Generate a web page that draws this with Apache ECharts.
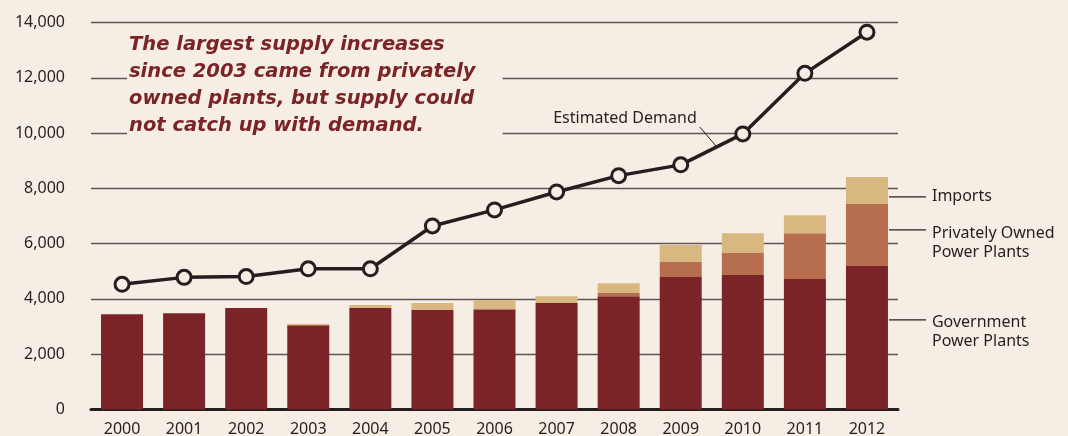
<!DOCTYPE html>
<html>
<head>
<meta charset="utf-8">
<script src="https://cdn.jsdelivr.net/npm/echarts@6/dist/echarts.min.js"></script>
<style>
  html, body { margin: 0; padding: 0; background: #f6eee4; }
  #chart { width: 1068px; height: 436px; }
</style>
</head>
<body>
<div id="chart"></div>
<script>
// Electricity supply by source vs. estimated demand (stacked bars + line)
const years = ['2000','2001','2002','2003','2004','2005','2006','2007','2008','2009','2010','2011','2012'];
const government = [3450, 3480, 3670, 3050, 3670, 3600, 3620, 3850, 4100, 4790, 4870, 4720, 5190];
const privatelyOwned = [0, 0, 0, 0, 0, 0, 30, 0, 110, 550, 790, 1660, 2240];
const imports = [0, 0, 0, 40, 110, 250, 310, 250, 360, 610, 720, 650, 980];
const demand = [4530, 4780, 4810, 5090, 5090, 6640, 7220, 7870, 8460, 8850, 9970, 12160, 13650];
const yTicks = [0, 2000, 4000, 6000, 8000, 10000, 12000, 14000];

const BG = '#f6eee4';
const INK = '#231f20';
const C_GOV = '#7a2427';
const C_PRIV = '#b76e4f';
const C_IMP = '#d9b780';
const FONT = '"Noto Sans", "Open Sans", sans-serif';

const chart = echarts.init(document.getElementById('chart'), null, { renderer: 'canvas' });

chart.setOption({
  backgroundColor: BG,
  animation: false,
  title: {
    text: 'The largest supply increases\nsince 2003 came from privately\nowned plants, but supply could\nnot catch up with demand.',
    left: 127,
    top: 31,
    padding: [0, 27, 4, 2],
    backgroundColor: BG,
    textStyle: {
      color: C_GOV,
      fontFamily: '"DejaVu Sans", sans-serif',
      fontStyle: 'italic',
      fontWeight: 'bold',
      fontSize: 19.5,
      lineHeight: 27
    },
    z: 10
  },
  grid: { left: 91, right: 170, top: 22.5, bottom: 26.5, outerBoundsMode: 'none' },
  xAxis: {
    type: 'category',
    data: years,
    axisLine: { lineStyle: { color: INK, width: 3 } },
    axisTick: { show: false },
    axisLabel: { color: INK, fontFamily: FONT, fontSize: 16, margin: 12 }
  },
  yAxis: {
    type: 'value',
    min: yTicks[0],
    max: yTicks[yTicks.length - 1],
    interval: 2000,
    axisLine: { show: false },
    axisTick: { show: false },
    axisLabel: {
      color: INK, fontFamily: FONT, fontSize: 16, margin: 26,
      formatter: v => v.toLocaleString('en-US')
    },
    splitLine: { lineStyle: { color: '#5e5654', width: 1.4 } }
  },
  series: [
    { name: 'Government Power Plants', type: 'bar', stack: 'supply', barWidth: 42,
      data: government, itemStyle: { color: C_GOV } },
    { name: 'Privately Owned Power Plants', type: 'bar', stack: 'supply', barWidth: 42,
      data: privatelyOwned, itemStyle: { color: C_PRIV } },
    { name: 'Imports', type: 'bar', stack: 'supply', barWidth: 42,
      data: imports, itemStyle: { color: C_IMP } },
    { name: 'Estimated Demand', type: 'line', data: demand, z: 5,
      symbol: 'circle', symbolSize: 14,
      lineStyle: { color: INK, width: 3.5 },
      itemStyle: { color: BG, borderColor: INK, borderWidth: 3 } }
  ]
});

// Annotations: series names with leader lines, anchored via the chart's scales
const last = years[years.length - 1];
const px = (cat, v) => chart.convertToPixel({ gridIndex: 0 }, [cat, v]);
const barRight = px(last, 0)[0] + 21;
const seriesNotes = [
  { lines: ['Imports'], at: 7690, dy: -10 },
  { lines: ['Privately Owned', 'Power Plants'], at: 6500, dy: -6 },
  { lines: ['Government', 'Power Plants'], at: 3240, dy: -7 }
];
const graphics = [];
seriesNotes.forEach(n => {
  const y = px(last, n.at)[1];
  graphics.push({
    type: 'line', silent: true,
    shape: { x1: barRight + 1, y1: y, x2: barRight + 38, y2: y },
    style: { stroke: INK, lineWidth: 1.2 }
  });
  graphics.push({
    type: 'text', silent: true, x: barRight + 44, y: y + n.dy,
    style: { text: n.lines.join('\n'), fill: INK, font: '16px ' + FONT, lineHeight: 19, textVerticalAlign: 'top' }
  });
});

// "Estimated Demand" callout on the 2009–2010 segment
const p9 = px('2009', demand[9]);
const p10 = px('2010', demand[10]);
const t = 0.58;
const ax = p9[0] + (p10[0] - p9[0]) * t;
const ay = p9[1] + (p10[1] - p9[1]) * t;
graphics.push({
  type: 'line', silent: true,
  shape: { x1: ax, y1: ay, x2: ax - 17, y2: ay - 20 },
  style: { stroke: INK, lineWidth: 1 }
});
graphics.push({
  type: 'text', silent: true, x: ax - 20, y: ay - 28,
  style: { text: 'Estimated Demand', fill: INK, font: '16px ' + FONT, align: 'right', verticalAlign: 'middle' }
});

chart.setOption({ graphic: graphics });
</script>
</body>
</html>
